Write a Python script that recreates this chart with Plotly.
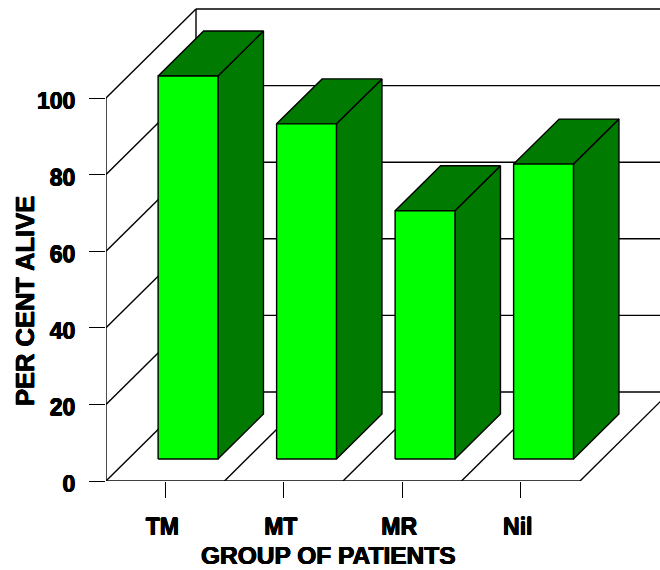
import plotly.graph_objects as go

# Survival by patient group
categories = ["TM", "MT", "MR", "Nil"]
percent_alive = [100, 87.5, 64.8, 77]
y_ticks = [0, 20, 40, 60, 80, 100]

FIG_W, FIG_H = 660, 570
LEFT_PX, BASE_PX = 106, 481
PX_PER_GROUP = 118.5
PX_PER_PERCENT = 3.83

# Oblique projection: full depth of the box, in axis units
DEPTH_X = 90 / PX_PER_GROUP
DEPTH_Y = 89 / PX_PER_PERCENT
BAR_NEAR = 22 / 89
BAR_FAR = 67 / 89
BAR_WIDTH = 0.505
BAR_LEFT = 0.252

LIGHT = "#00ff00"
DARK = "#007a00"
INK = "#000000"
LW = 1.4
FONT = "Liberation Sans"
HEAVY = "0.5px 0 0 #000, -0.5px 0 0 #000, 0 0.3px 0 #000, 0 -0.3px 0 #000"


def project(x, y, depth):
    return x + DEPTH_X * depth, y + DEPTH_Y * depth


def segment(fig, p, q):
    fig.add_trace(go.Scatter(x=[p[0], q[0]], y=[p[1], q[1]], mode="lines",
                             line=dict(color=INK, width=LW), cliponaxis=False,
                             hoverinfo="skip", showlegend=False))


def face(fig, corners, color):
    xs = [c[0] for c in corners] + [corners[0][0]]
    ys = [c[1] for c in corners] + [corners[0][1]]
    fig.add_trace(go.Scatter(x=xs, y=ys, mode="lines", fill="toself", fillcolor=color,
                             line=dict(color=INK, width=LW), cliponaxis=False,
                             hoverinfo="skip", showlegend=False))


fig = go.Figure()
n = len(categories)

# Walls and floor of the box
segment(fig, (0, 0), (0, 100))
segment(fig, project(0, 0, 1), project(0, 100, 1))
segment(fig, (0, 0), (n, 0))
for v in y_ticks:
    segment(fig, (0, v), project(0, v, 1))
    segment(fig, project(0, v, 1), project(n, v, 1))
for i in range(1, n + 1):
    segment(fig, (i, 0), project(i, 0, 1))

# Bars, each made of a front, top and side face
for i, value in enumerate(percent_alive):
    x0 = i + BAR_LEFT
    x1 = x0 + BAR_WIDTH
    a = project(x0, 0, BAR_NEAR)
    b = project(x1, 0, BAR_NEAR)
    c = project(x1, value, BAR_NEAR)
    d = project(x0, value, BAR_NEAR)
    e = project(x1, 0, BAR_FAR)
    f = project(x1, value, BAR_FAR)
    g = project(x0, value, BAR_FAR)
    face(fig, [b, e, f, c], DARK)
    face(fig, [d, c, f, g], DARK)
    face(fig, [a, b, c, d], LIGHT)

tick_font = dict(family=FONT, size=23, color=INK, weight="bold", shadow=HEAVY)
x_title_font = dict(family=FONT, size=24.5, color=INK, weight="bold", shadow=HEAVY)
y_title_font = dict(family=FONT, size=25.5, color=INK, weight="bold", shadow=HEAVY)

fig.update_layout(
    width=FIG_W, height=FIG_H,
    margin=dict(l=0, r=0, t=0, b=0),
    paper_bgcolor="white", plot_bgcolor="white",
    showlegend=False,
    xaxis=dict(
        domain=[LEFT_PX / FIG_W, 1],
        range=[0, (FIG_W - LEFT_PX) / PX_PER_GROUP],
        automargin=False,
        tickmode="array",
        tickvals=[i + 0.5 for i in range(n)],
        ticktext=categories,
        ticks="outside", ticklen=16, tickwidth=LW, tickcolor=INK,
        showgrid=False, zeroline=False, showline=False,
        tickfont=tick_font, ticklabelstandoff=9, ticklabelshift=-3,
    ),
    yaxis=dict(
        domain=[(FIG_H - BASE_PX) / FIG_H, 1],
        range=[0, BASE_PX / PX_PER_PERCENT],
        automargin=False,
        tickmode="array",
        tickvals=y_ticks,
        ticktext=[str(v) for v in y_ticks],
        ticks="outside", ticklen=16, tickwidth=LW, tickcolor=INK,
        showgrid=False, zeroline=False, showline=False,
        tickfont=tick_font, ticklabelstandoff=9, ticklabelshift=3,
    ),
    annotations=[
        dict(text="GROUP OF PATIENTS", xref="paper", yref="paper",
             x=328 / FIG_W, y=1 - 555 / FIG_H, showarrow=False, borderpad=0,
             xanchor="center", yanchor="middle", font=x_title_font),
        dict(text="PER CENT ALIVE", xref="paper", yref="paper",
             x=25 / FIG_W, y=1 - 301 / FIG_H, showarrow=False, textangle=-90, borderpad=0,
             xanchor="center", yanchor="middle", font=y_title_font),
    ],
)

fig.write_html("out.html", config=dict(displayModeBar=False))
